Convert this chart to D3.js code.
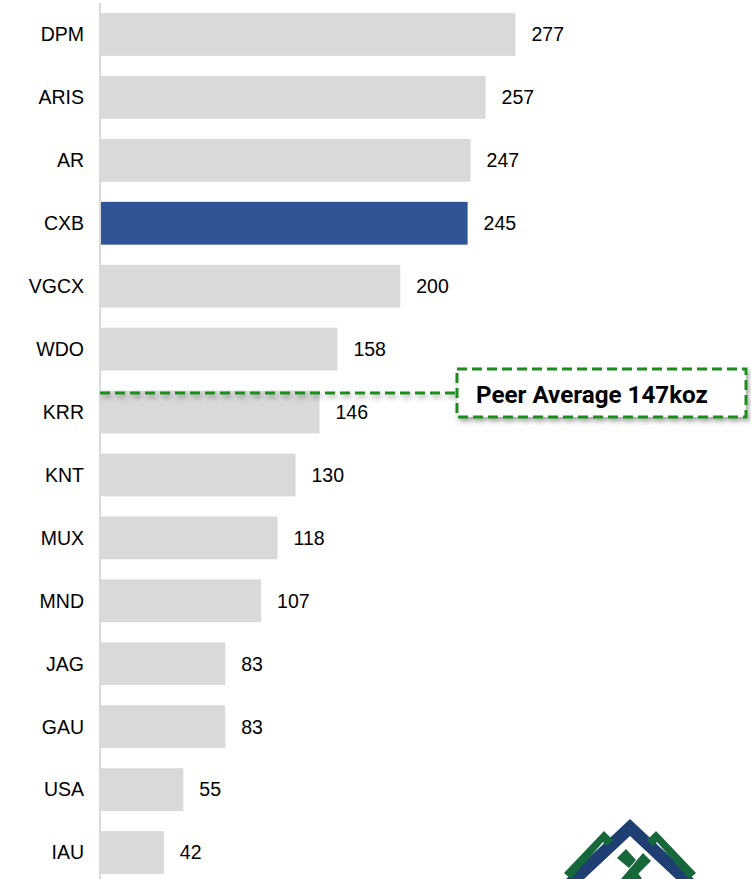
<!DOCTYPE html>
<html><head><meta charset="utf-8">
<script src="https://cdn.jsdelivr.net/npm/d3@7"></script>
<style>body{margin:0;background:#fff}svg{display:block}</style>
</head><body>
<svg id="c" width="751" height="879"></svg>
<script>
const categories = ["DPM","ARIS","AR","CXB","VGCX","WDO","KRR","KNT","MUX","MND","JAG","GAU","USA","IAU"];
const values = [277,257,247,245,200,158,146,130,118,107,83,83,55,42];
const highlight = "CXB";
const peerAverage = 147;
const peerLabel = "Peer Average 147koz";

const svg = d3.select("#c");
const defs = svg.append("defs");
const f = defs.append("filter").attr("id","sh").attr("x","-20%").attr("y","-50%").attr("width","140%").attr("height","200%");
f.append("feDropShadow").attr("dx",2).attr("dy",3).attr("stdDeviation",2.5).attr("flood-color","#000").attr("flood-opacity",0.35);

const x = d3.scaleLinear().domain([0,277]).range([101,515.5]);
const y = d3.scaleBand().domain(categories).range([3,884]).paddingInner(0.32).paddingOuter(0.16);

svg.selectAll("rect.bar").data(categories).join("rect").attr("class","bar")
  .attr("x",x(0)).attr("y",d=>y(d)).attr("height",y.bandwidth())
  .attr("width",(d,i)=>x(values[i])-x(0))
  .attr("fill",d=>d===highlight?"#2f5597":"#d9d9d9");

svg.append("line").attr("x1",100).attr("x2",100).attr("y1",3).attr("y2",879).attr("stroke","#d9d9d9").attr("stroke-width",2);

const yAxis = d3.axisLeft(y).tickSize(0).tickPadding(0);
const ga = svg.append("g").attr("transform","translate(84,0)").call(yAxis);
ga.select(".domain").remove();
ga.selectAll("text").attr("font-family","Liberation Sans, Arial, sans-serif").attr("font-size",19.5).attr("fill","#000").attr("dy","0.35em");

svg.selectAll("text.val").data(categories).join("text").attr("class","val")
  .attr("x",(d,i)=>x(values[i])+16).attr("y",d=>y(d)+y.bandwidth()/2).attr("dy","0.35em")
  .attr("font-family","Liberation Sans, Arial, sans-serif").attr("font-size",19.5).attr("fill","#000")
  .text((d,i)=>values[i]);

// peer average annotation
const ly = 393;
const g = svg.append("g").attr("filter","url(#sh)");
g.append("line").attr("x1",100).attr("x2",457).attr("y1",ly).attr("y2",ly)
  .attr("stroke","#1e8c1e").attr("stroke-width",3).attr("stroke-dasharray","10,5");
g.append("rect").attr("x",457).attr("y",369).attr("width",289).attr("height",48)
  .attr("fill","#fff").attr("stroke","#1e8c1e").attr("stroke-width",3).attr("stroke-dasharray","10,5");
svg.append("text").attr("x",476).attr("y",394).attr("dy","0.36em")
  .attr("font-family","Roboto, sans-serif").attr("font-weight","bold").attr("font-size",24.2).attr("fill","#000")
  .text(peerLabel);

// logo (partial, bottom right)
const lg = svg.append("g");
lg.append("path").attr("d","M566,879 L630,819 L694,879 L676,879 L630,836 L584,879 Z").attr("fill","#1f3f73");
lg.append("path").attr("d","M564,873 L604,831 L613,840 L607,846 L603,842 L571,879 Z").attr("fill","#16673a");
lg.append("path").attr("d","M656,831 L696,873 L689,879 L657,842 L653,846 L647,840 Z").attr("fill","#16673a");
lg.append("path").attr("d","M617,858 L626,849 L636,860 L629,868 Z").attr("fill","#16673a");
lg.append("path").attr("d","M621,879 L643,853 L651,861 L633,879 Z").attr("fill","#16673a");
lg.append("path").attr("d","M630,876 L636,870 L642,879 L632,879 Z").attr("fill","#16673a");
</script>
</body></html>
